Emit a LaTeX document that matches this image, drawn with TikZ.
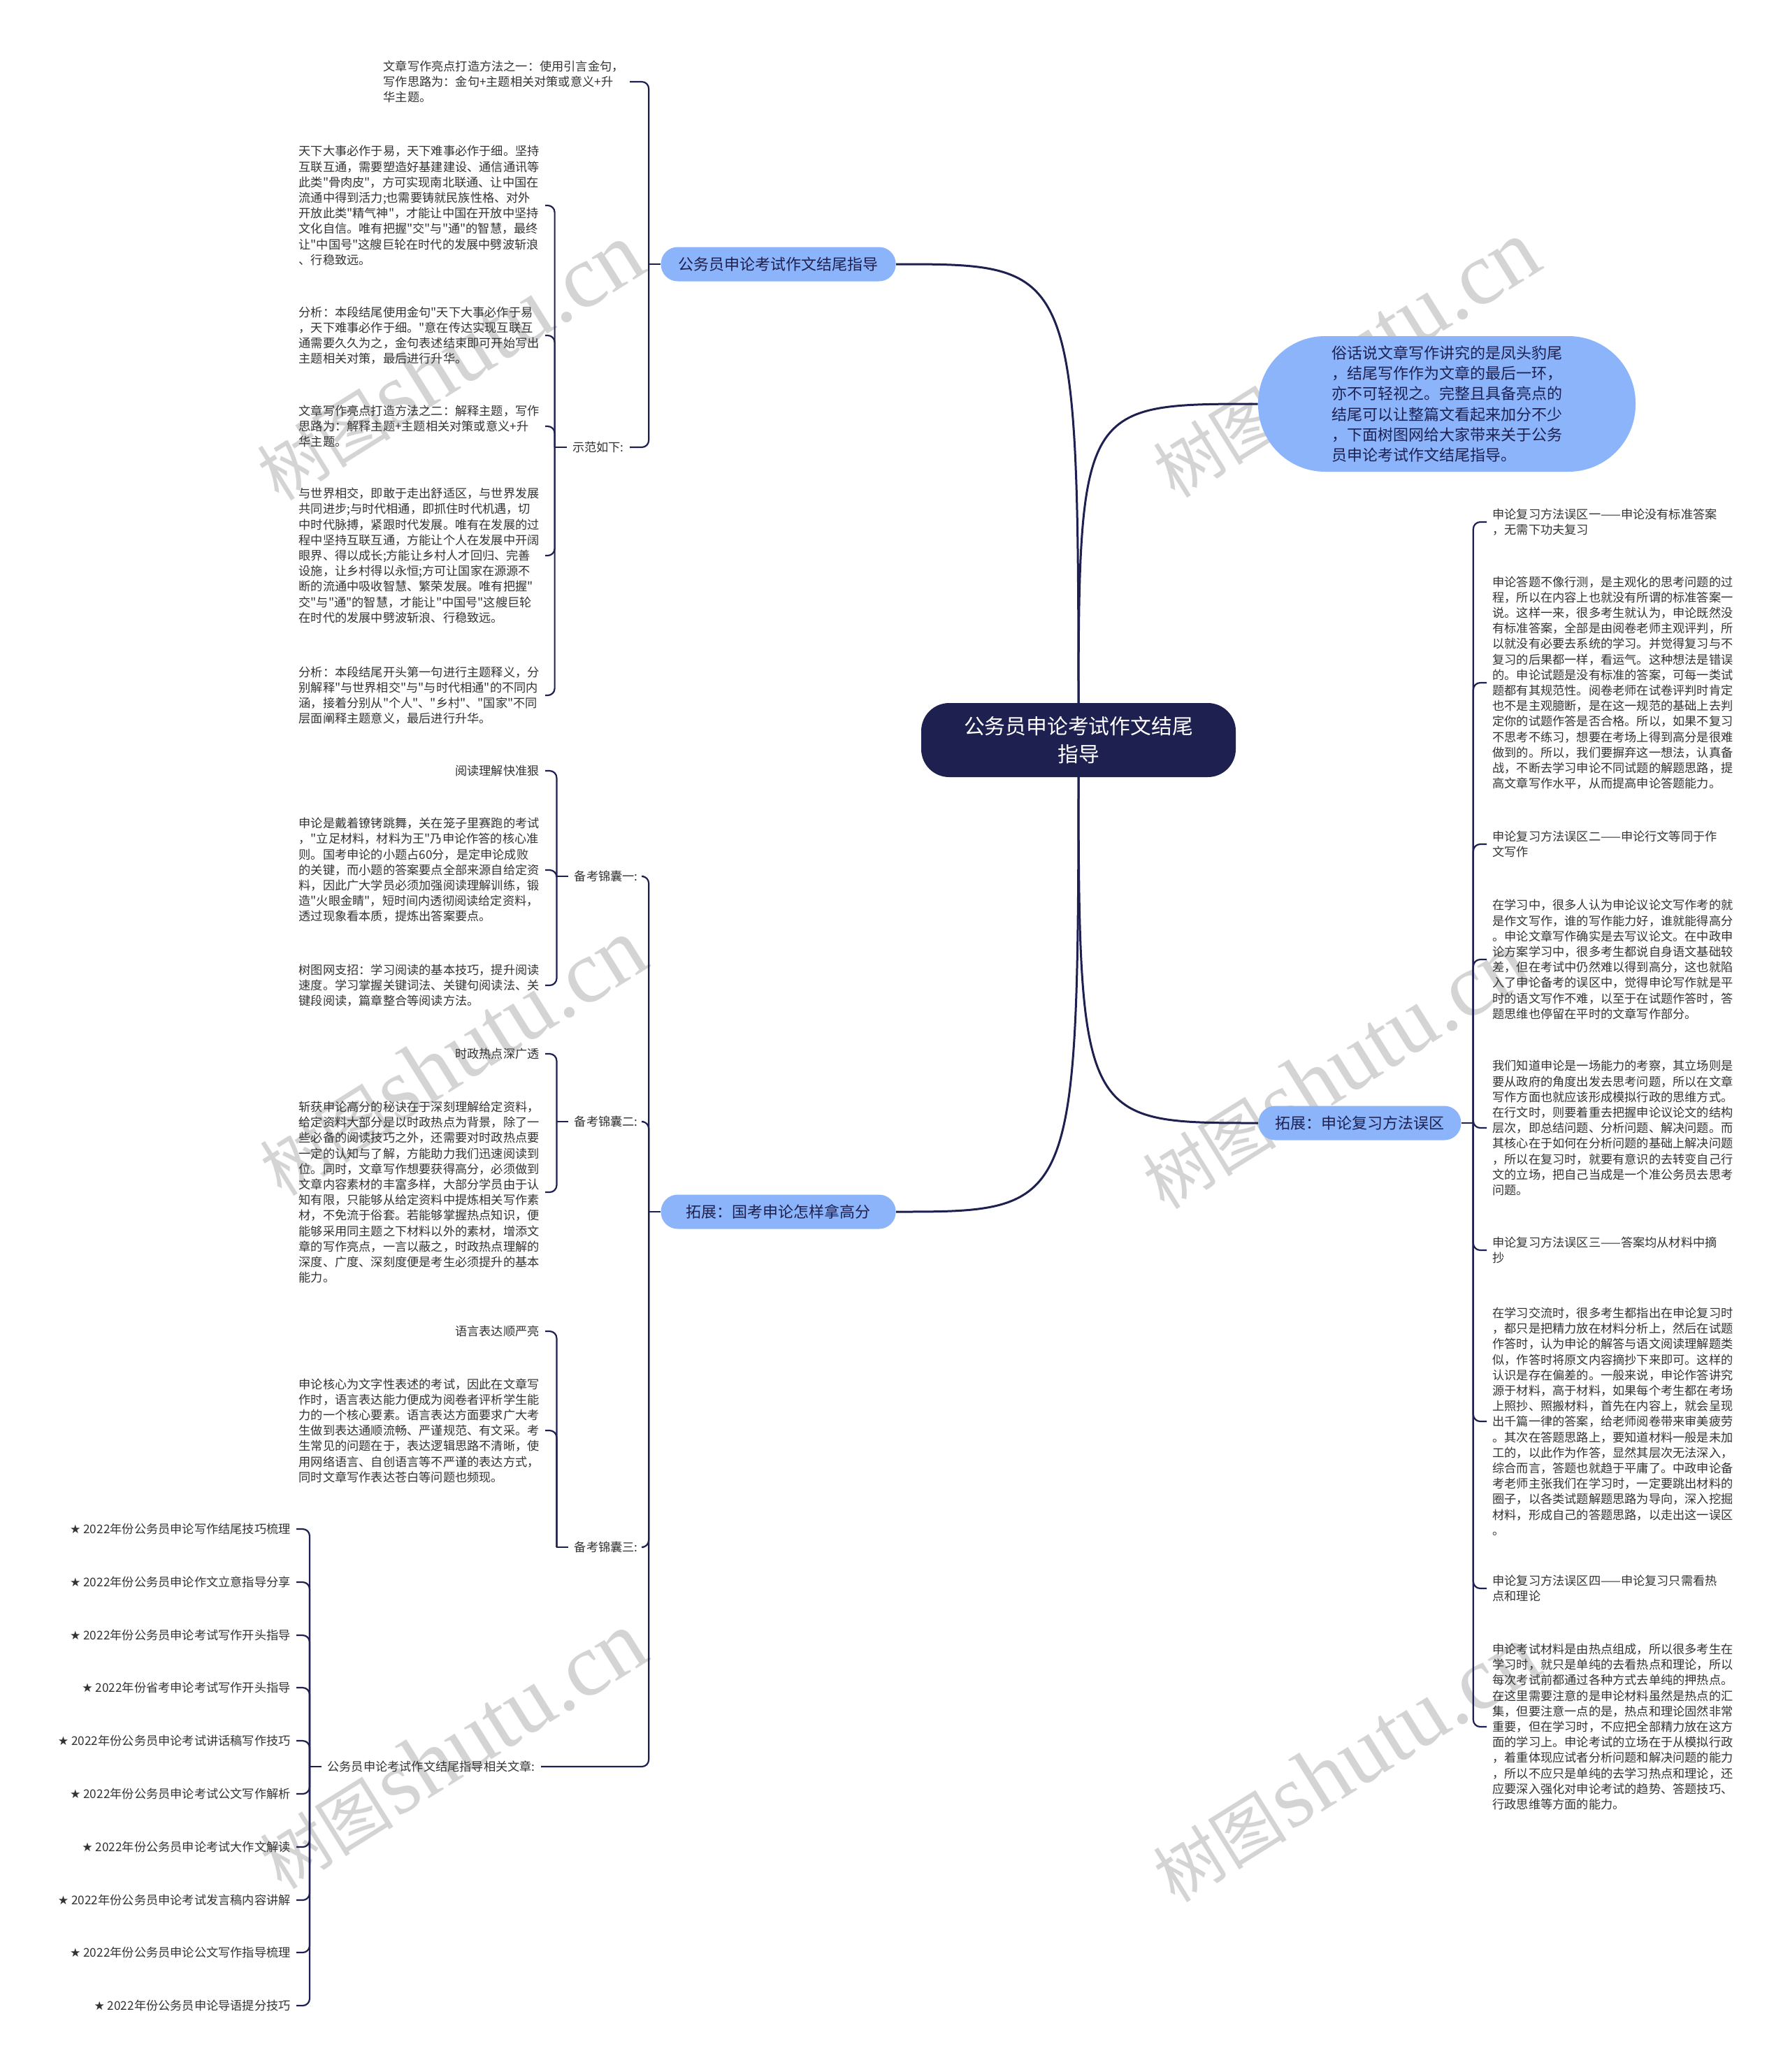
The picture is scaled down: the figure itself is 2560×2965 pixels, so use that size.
\documentclass[tikz,border=0pt]{standalone}
\usepackage{fontspec}
\setmainfont{Noto Sans CJK SC}
\newfontfamily\cjk{Noto Sans CJK SC}
\newfontfamily\wmlatin{Liberation Serif}
\newfontfamily\djv{DejaVu Sans}
\usetikzlibrary{backgrounds}
\definecolor{navy}{RGB}{30,32,80}
\definecolor{lblue}{RGB}{140,180,250}
\definecolor{txtc}{RGB}{51,51,51}
\definecolor{wmc}{RGB}{212,212,212}
\newcommand{\wmtext}{{\cjk\fontsize{48}{48}\selectfont 树图}\,{\wmlatin\fontsize{64}{64}\selectfont shutu.cn}}
\begin{document}
\begin{tikzpicture}[x=0.5pt,y=0.5pt,
  txt/.style={font=\cjk\fontsize{8.6}{11.1}\selectfont, align=left, inner xsep=4pt, inner ysep=1pt, text=txtc},
  br/.style={draw=navy, line width=1.1pt, rounded corners=5pt},
  mainln/.style={draw=navy, line width=1.5pt},
  bnode/.style={fill=lblue, rounded corners=12pt, inner xsep=12pt, inner ysep=0pt, minimum height=24.5pt, minimum width=168pt, font=\cjk\fontsize{11}{13}\selectfont, text=navy},
  wmark/.style={text=wmc, rotate=32, inner sep=0pt}]

\useasboundingbox (0,0) rectangle (2560,-2965);

% ---------- main nodes ----------
\node[fill=navy, text=white, rounded corners=20pt, minimum width=225pt, minimum height=53pt, align=center, font=\cjk\fontsize{14.9}{19.9}\selectfont] (c) at (1543,-1059) {公务员申论考试作文结尾\\指导};

\node[fill=lblue, rounded corners=48pt, minimum width=270pt, minimum height=97pt, align=left, font=\cjk\fontsize{11}{14.6}\selectfont, text=navy] (intro) at (2070,-578) {俗话说文章写作讲究的是凤头豹尾\\，结尾写作作为文章的最后一环，\\亦不可轻视之。完整且具备亮点的\\结尾可以让整篇文看起来加分不少\\，下面树图网给大家带来关于公务\\员申论考试作文结尾指导。};

\node[bnode, anchor=east] (b1) at (1282,-378) {公务员申论考试作文结尾指导};
\node[bnode, anchor=east] (b4) at (1282,-1734) {拓展：国考申论怎样拿高分};
\node[bnode, anchor=west, minimum width=145pt] (b3) at (1800,-1607) {拓展：申论复习方法误区};

% ---------- branch 1 ----------
\node[txt, anchor=east] (t1) at (901,-117) {文章写作亮点打造方法之一：使用引言金句，\\写作思路为：金句+主题相关对策或意义+升\\华主题。};
\node[txt, anchor=east] (sf) at (901,-640) {示范如下:};

\node[txt, anchor=east] (sa) at (780,-294) {天下大事必作于易，天下难事必作于细。坚持\\互联互通，需要塑造好基建建设、通信通讯等\\此类"骨肉皮"，方可实现南北联通、让中国在\\流通中得到活力;也需要铸就民族性格、对外\\开放此类"精气神"，才能让中国在开放中坚持\\文化自信。唯有把握"交"与"通"的智慧，最终\\让"中国号"这艘巨轮在时代的发展中劈波斩浪\\、行稳致远。};
\node[txt, anchor=east] (sb) at (780,-480) {分析：本段结尾使用金句"天下大事必作于易\\，天下难事必作于细。"意在传达实现互联互\\通需要久久为之，金句表述结束即可开始写出\\主题相关对策，最后进行升华。};
\node[txt, anchor=east] (sc) at (780,-610) {文章写作亮点打造方法之二：解释主题，写作\\思路为：解释主题+主题相关对策或意义+升\\华主题。};
\node[txt, anchor=east] (sd) at (780,-795) {与世界相交，即敢于走出舒适区，与世界发展\\共同进步;与时代相通，即抓住时代机遇，切\\中时代脉搏，紧跟时代发展。唯有在发展的过\\程中坚持互联互通，方能让个人在发展中开阔\\眼界、得以成长;方能让乡村人才回归、完善\\设施，让乡村得以永恒;方可让国家在源源不\\断的流通中吸收智慧、繁荣发展。唯有把握"\\交"与"通"的智慧，才能让"中国号"这艘巨轮\\在时代的发展中劈波斩浪、行稳致远。};
\node[txt, anchor=east] (se) at (780,-995) {分析：本段结尾开头第一句进行主题释义，分\\别解释"与世界相交"与"与时代相通"的不同内\\涵，接着分别从"个人"、"乡村"、"国家"不同\\层面阐释主题意义，最后进行升华。};

% ---------- branch 4 ----------
\node[txt, anchor=east] (k1) at (921,-1254) {备考锦囊一:};
\node[txt, anchor=east] (k2) at (921,-1605) {备考锦囊二:};
\node[txt, anchor=east] (k3) at (921,-2214) {备考锦囊三:};
\node[txt, anchor=east] (rel) at (774,-2528) {公务员申论考试作文结尾指导相关文章:};

\node[txt, anchor=east] (k11) at (780,-1103) {阅读理解快准狠};
\node[txt, anchor=east] (k12) at (780,-1245) {申论是戴着镣铐跳舞，关在笼子里赛跑的考试\\，"立足材料，材料为王"乃申论作答的核心准\\则。国考申论的小题占60分，是定申论成败\\的关键，而小题的答案要点全部来源自给定资\\料，因此广大学员必须加强阅读理解训练，锻\\造"火眼金睛"，短时间内透彻阅读给定资料，\\透过现象看本质，提炼出答案要点。};
\node[txt, anchor=east] (k13) at (780,-1410) {树图网支招：学习阅读的基本技巧，提升阅读\\速度。学习掌握关键词法、关键句阅读法、关\\键段阅读，篇章整合等阅读方法。};

\node[txt, anchor=east] (k21) at (780,-1508) {时政热点深广透};
\node[txt, anchor=east] (k22) at (780,-1706) {斩获申论高分的秘诀在于深刻理解给定资料，\\给定资料大部分是以时政热点为背景，除了一\\些必备的阅读技巧之外，还需要对时政热点要\\一定的认知与了解，方能助力我们迅速阅读到\\位。同时，文章写作想要获得高分，必须做到\\文章内容素材的丰富多样，大部分学员由于认\\知有限，只能够从给定资料中提炼相关写作素\\材，不免流于俗套。若能够掌握热点知识，便\\能够采用同主题之下材料以外的素材，增添文\\章的写作亮点，一言以蔽之，时政热点理解的\\深度、广度、深刻度便是考生必须提升的基本\\能力。};

\node[txt, anchor=east] (k31) at (780,-1905) {语言表达顺严亮};
\node[txt, anchor=east] (k32) at (780,-2047) {申论核心为文字性表述的考试，因此在文章写\\作时，语言表达能力便成为阅卷者评析学生能\\力的一个核心要素。语言表达方面要求广大考\\生做到表达通顺流畅、严谨规范、有文采。考\\生常见的问题在于，表达逻辑思路不清晰，使\\用网络语言、自创语言等不严谨的表达方式，\\同时文章写作表达苍白等问题也频现。};

\node[txt, anchor=east] (r1) at (424,-2188) {{\djv ★} 2022年份公务员申论写作结尾技巧梳理};
\node[txt, anchor=east] (r2) at (424,-2264) {{\djv ★} 2022年份公务员申论作文立意指导分享};
\node[txt, anchor=east] (r3) at (424,-2340) {{\djv ★} 2022年份公务员申论考试写作开头指导};
\node[txt, anchor=east] (r4) at (424,-2415) {{\djv ★} 2022年份省考申论考试写作开头指导};
\node[txt, anchor=east] (r5) at (424,-2491) {{\djv ★} 2022年份公务员申论考试讲话稿写作技巧};
\node[txt, anchor=east] (r6) at (424,-2567) {{\djv ★} 2022年份公务员申论考试公文写作解析};
\node[txt, anchor=east] (r7) at (424,-2643) {{\djv ★} 2022年份公务员申论考试大作文解读};
\node[txt, anchor=east] (r8) at (424,-2719) {{\djv ★} 2022年份公务员申论考试发言稿内容讲解};
\node[txt, anchor=east] (r9) at (424,-2794) {{\djv ★} 2022年份公务员申论公文写作指导梳理};
\node[txt, anchor=east] (r10) at (424,-2870) {{\djv ★} 2022年份公务员申论导语提分技巧};

% ---------- branch 3 (right) ----------
\node[txt, anchor=west] (q1) at (2127,-747) {申论复习方法误区一——申论没有标准答案\\，无需下功夫复习};
\node[txt, anchor=west] (q2) at (2127,-977) {申论答题不像行测，是主观化的思考问题的过\\程，所以在内容上也就没有所谓的标准答案一\\说。这样一来，很多考生就认为，申论既然没\\有标准答案，全部是由阅卷老师主观评判，所\\以就没有必要去系统的学习。并觉得复习与不\\复习的后果都一样，看运气。这种想法是错误\\的。申论试题是没有标准的答案，可每一类试\\题都有其规范性。阅卷老师在试卷评判时肯定\\也不是主观臆断，是在这一规范的基础上去判\\定你的试题作答是否合格。所以，如果不复习\\不思考不练习，想要在考场上得到高分是很难\\做到的。所以，我们要摒弃这一想法，认真备\\战，不断去学习申论不同试题的解题思路，提\\高文章写作水平，从而提高申论答题能力。};
\node[txt, anchor=west] (q3) at (2127,-1208) {申论复习方法误区二——申论行文等同于作\\文写作};
\node[txt, anchor=west] (q4) at (2127,-1373) {在学习中，很多人认为申论议论文写作考的就\\是作文写作，谁的写作能力好，谁就能得高分\\。申论文章写作确实是去写议论文。在中政申\\论方案学习中，很多考生都说自身语文基础较\\差，但在考试中仍然难以得到高分，这也就陷\\入了申论备考的误区中，觉得申论写作就是平\\时的语文写作不难，以至于在试题作答时，答\\题思维也停留在平时的文章写作部分。};
\node[txt, anchor=west] (q5) at (2127,-1614) {我们知道申论是一场能力的考察，其立场则是\\要从政府的角度出发去思考问题，所以在文章\\写作方面也就应该形成模拟行政的思维方式。\\在行文时，则要着重去把握申论议论文的结构\\层次，即总结问题、分析问题、解决问题。而\\其核心在于如何在分析问题的基础上解决问题\\，所以在复习时，就要有意识的去转变自己行\\文的立场，把自己当成是一个准公务员去思考\\问题。};
\node[txt, anchor=west] (q6) at (2127,-1789) {申论复习方法误区三——答案均从材料中摘\\抄};
\node[txt, anchor=west] (q7) at (2127,-2034) {在学习交流时，很多考生都指出在申论复习时\\，都只是把精力放在材料分析上，然后在试题\\作答时，认为申论的解答与语文阅读理解题类\\似，作答时将原文内容摘抄下来即可。这样的\\认识是存在偏差的。一般来说，申论作答讲究\\源于材料，高于材料，如果每个考生都在考场\\上照抄、照搬材料，首先在内容上，就会呈现\\出千篇一律的答案，给老师阅卷带来审美疲劳\\。其次在答题思路上，要知道材料一般是未加\\工的，以此作为作答，显然其层次无法深入，\\综合而言，答题也就趋于平庸了。中政申论备\\考老师主张我们在学习时，一定要跳出材料的\\圈子，以各类试题解题思路为导向，深入挖掘\\材料，形成自己的答题思路，以走出这一误区\\。};
\node[txt, anchor=west] (q8) at (2127,-2273) {申论复习方法误区四——申论复习只需看热\\点和理论};
\node[txt, anchor=west] (q9) at (2127,-2471) {申论考试材料是由热点组成，所以很多考生在\\学习时，就只是单纯的去看热点和理论，所以\\每次考试前都通过各种方式去单纯的押热点。\\在这里需要注意的是申论材料虽然是热点的汇\\集，但要注意一点的是，热点和理论固然非常\\重要，但在学习时，不应把全部精力放在这方\\面的学习上。申论考试的立场在于从模拟行政\\，着重体现应试者分析问题和解决问题的能力\\，所以不应只是单纯的去学习热点和理论，还\\应要深入强化对申论考试的趋势、答题技巧、\\行政思维等方面的能力。};

% ---------- brackets ----------
\draw[br] (b1.west) -- ++(-17,0) coordinate (j1);
\draw[br] (j1) |- (t1.east);
\draw[br] (j1) |- (sf.east);

\draw[br] (sf.west) -- ++(-17,0) coordinate (j2);
\foreach \n in {sa,sb,sc,sd,se} \draw[br] (j2) |- (\n.east);

\draw[br] (b4.west) -- ++(-17,0) coordinate (j4);
\foreach \n in {k1,k2,k3,rel} \draw[br] (j4) |- (\n.east);

\draw[br] (k1.west) -- ++(-17,0) coordinate (jk1);
\foreach \n in {k11,k12,k13} \draw[br] (jk1) |- (\n.east);
\draw[br] (k2.west) -- ++(-17,0) coordinate (jk2);
\foreach \n in {k21,k22} \draw[br] (jk2) |- (\n.east);
\draw[br] (k3.west) -- ++(-17,0) coordinate (jk3);
\foreach \n in {k31,k32} \draw[br] (jk3) |- (\n.east);

\draw[br] (rel.west) -- ++(-17,0) coordinate (jr);
\foreach \n in {r1,r2,r3,r4,r5,r6,r7,r8,r9,r10} \draw[br] (jr) |- (\n.east);

\draw[br] (b3.east) -- ++(17,0) coordinate (j3);
\foreach \n in {q1,q2,q3,q4,q5,q6,q7,q8,q9} \draw[br] (j3) |- (\n.west);

% ---------- background: watermark and main connectors ----------
\begin{pgfonlayer}{background}
\fill[white] (0,0) rectangle (2560,-2965);
\node[wmark] (w1) at (643,-518) {\wmtext};
\node[wmark] (w2) at (1925,-514) {\wmtext};
\node[wmark] (w3) at (647,-1513) {\wmtext};
\node[wmark] (w4) at (1910,-1532) {\wmtext};
\node[wmark] (w5) at (647,-2505) {\wmtext};
\node[wmark] (w6) at (1925,-2524) {\wmtext};
\draw[mainln] (c.center) .. controls (c.center |- b1.east) .. (b1.east);
\draw[mainln] (c.center) .. controls (c.center |- intro.west) .. (intro.west);
\draw[mainln] (c.center) .. controls (c.center |- b3.west) .. (b3.west);
\draw[mainln] (c.center) .. controls (c.center |- b4.east) .. (b4.east);
\end{pgfonlayer}
\end{tikzpicture}
\end{document}
